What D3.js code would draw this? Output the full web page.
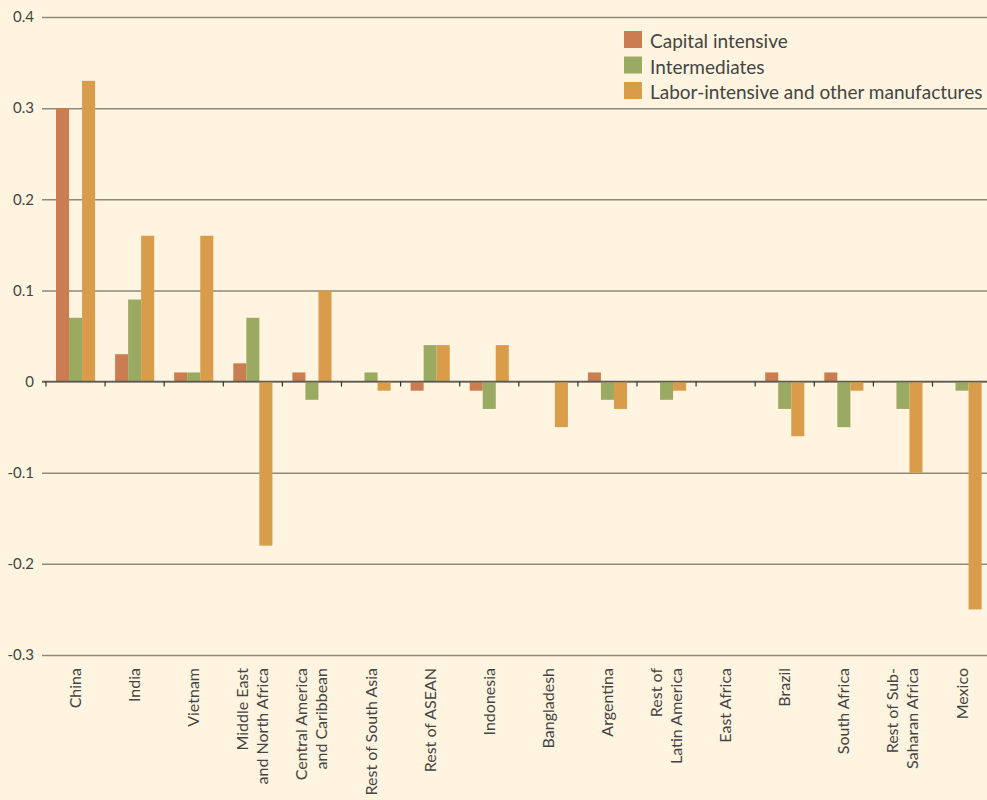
<!DOCTYPE html>
<html>
<head>
<meta charset="utf-8">
<script src="https://cdn.jsdelivr.net/npm/d3@7"></script>
<style>
  body { margin: 0; background: #fef4df; }
  svg { display: block; font-family: Lato, "Noto Sans", sans-serif; }
</style>
</head>
<body>
<svg id="chart"></svg>
<script>
// regions along the x axis (lines split with \n)
let regions = ['China', 'India', 'Vietnam', 'Middle East\nand North Africa',
  'Central America\nand Caribbean', 'Rest of South Asia', 'Rest of ASEAN', 'Indonesia',
  'Bangladesh', 'Argentina', 'Rest of\nLatin America', 'East Africa', 'Brazil',
  'South Africa', 'Rest of Sub-\nSaharan Africa', 'Mexico']
let seriesNames = ['Capital intensive', 'Intermediates', 'Labor-intensive and other manufactures']
let capital = [0.30, 0.03, 0.01, 0.02, 0.01, 0, -0.01, -0.01, 0, 0.01, 0, 0, 0.01, 0.01, 0, 0]
let intermediates = [0.07, 0.09, 0.01, 0.07, -0.02, 0.01, 0.04, -0.03, 0, -0.02, -0.02, 0, -0.03, -0.05, -0.03, -0.01]
let labor = [0.33, 0.16, 0.16, -0.18, 0.10, -0.01, 0.04, 0.04, -0.05, -0.03, -0.01, 0, -0.06, -0.01, -0.10, -0.25]
let yTicks = [0.4, 0.3, 0.2, 0.1, 0, -0.1, -0.2, -0.3]
let colors = ['#c97d50', '#9aaa62', '#d89c4b']

let width = 987
let height = 800
let series = [capital, intermediates, labor]
let data = regions.map((r, i) => ({region: r, values: series.map(s => s[i])}))

const svg = d3.select('#chart')
  .attr('width', width)
  .attr('height', height)

svg.append('rect').attr('width', width).attr('height', height).attr('fill', '#fef4df')

let step = 59.1
let x0 = d3.scaleBand()
  .domain(regions)
  .range([46, 46 + step * regions.length])
let x1 = d3.scaleBand()
  .domain(d3.range(3))
  .range([10, step - 10])
let y = d3.scaleLinear()
  .domain([-0.3, 0.4])
  .range([655, 17])

// grid lines and y labels (plain hyphen for negatives, as in the original)
let fmt = d => d === 0 ? '0' : d3.format('.1f')(d).replace('\u2212', '-')
let yAxis = g => g
  .attr('transform', `translate(42,0)`)
  .call(d3.axisLeft(y).tickValues(yTicks).tickFormat(fmt)
    .tickSize(-(width - 42)).tickPadding(8))
  .call(g => g.select('.domain').remove())
  .call(g => g.selectAll('.tick line').attr('stroke', '#8e897a').attr('stroke-width', 1.5))
  .call(g => g.selectAll('.tick text').attr('fill', '#444').attr('font-size', 15)
    .attr('font-family', 'Lato, sans-serif'))
svg.append('g').call(yAxis)

// bars
let groups = svg.append('g')
  .selectAll('g')
  .data(data)
  .join('g')
  .attr('transform', d => `translate(${x0(d.region)},0)`)

groups.selectAll('rect')
  .data(d => d.values.map((v, k) => ({k, v})))
  .join('rect')
  .attr('x', d => x1(d.k))
  .attr('width', x1.bandwidth())
  .attr('y', d => y(Math.max(0, d.v)))
  .attr('height', d => Math.abs(y(d.v) - y(0)))
  .attr('fill', d => colors[d.k])

// zero axis with group ticks
let zero = svg.append('g').attr('transform', `translate(0,${y(0)})`)
zero.append('line')
  .attr('x1', 42).attr('x2', width)
  .attr('stroke', '#5e5a50').attr('stroke-width', 1.5)
zero.selectAll('.gt')
  .data(regions)
  .join('line')
  .attr('class', 'gt')
  .attr('x1', d => x0(d)).attr('x2', d => x0(d))
  .attr('y1', 0).attr('y2', 5)
  .attr('stroke', '#333').attr('stroke-width', 1.2)

// category labels, rotated
let lineH = 20
let labels = svg.append('g')
  .selectAll('text')
  .data(regions)
  .join('text')
  .attr('transform', d => `translate(${x0(d) + x0.bandwidth() / 2},668) rotate(-90)`)
  .attr('text-anchor', 'end')
  .attr('fill', '#444')
  .attr('font-size', 16)
labels.each(function(d) {
  let lines = d.split('\n')
  let off = -(lines.length - 1) * lineH / 2
  d3.select(this).selectAll('tspan')
    .data(lines)
    .join('tspan')
    .attr('x', 0)
    .attr('y', (l, i) => off + i * lineH + 5.5)
    .text(l => l)
})

// legend
let legend = svg.append('g')
  .selectAll('g')
  .data(seriesNames)
  .join('g')
  .attr('transform', (d, i) => `translate(624,${31 + i * 25.5})`)
legend.append('rect')
  .attr('width', 18).attr('height', 17)
  .attr('fill', (d, i) => colors[i])
legend.append('text')
  .attr('x', 26).attr('y', 17)
  .attr('fill', '#444')
  .attr('font-size', 19)
  .text(d => d)
</script>
</body>
</html>
